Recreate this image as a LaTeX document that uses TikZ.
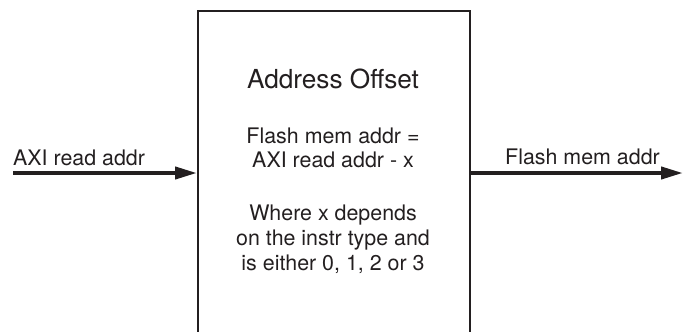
\documentclass[tikz,border=0pt]{standalone}
\usepackage{fontspec}
\setmainfont{TeX Gyre Heros}
\usetikzlibrary{arrows.meta}
\definecolor{ink}{HTML}{231F20}
\begin{document}
\begin{tikzpicture}[x=1pt,y=-1pt,
  body/.style={font=\fontsize{21.4}{24}\selectfont, text=ink, inner sep=0pt, anchor=base},
  ttl/.style={font=\fontsize{26.2}{30}\selectfont, text=ink, inner sep=0pt, anchor=base},
  lbl/.style={font=\fontsize{21.4}{24}\selectfont, text=ink, inner sep=0pt, anchor=base west},
  blk/.style={draw=ink, line width=2pt, minimum width=272pt, minimum height=360pt, inner sep=0pt, anchor=north west},
  sig/.style={draw=ink, line width=4pt, -{Triangle[length=22pt,width=12pt]}}]
\useasboundingbox (0,0) rectangle (683,332);
\clip (0,0) rectangle (683,332);
\node[blk] (box) at (197,10) {};
\node[ttl] (title) at (333,88) {Address Offset};
\node[body] (l1) at (333,143) {Flash mem addr =};
\node[body] (l2) at (333,167) {AXI read addr - x};
\node[body] (l3) at (333,220) {Where x depends};
\node[body] (l4) at (333,245) {on the instr type and};
\node[body] (l5) at (333,270) {is either 0, 1, 2 or 3};
\coordinate (inL) at (13,173);
\coordinate (outR) at (683,173);
\draw[sig] (inL) -- (inL -| box.west);
\draw[sig] (outR -| box.east) -- (outR);
\node[lbl] (ain) at (13,165) {AXI read addr};
\node[lbl] (aout) at (505,164) {Flash mem addr};
\end{tikzpicture}
\end{document}
